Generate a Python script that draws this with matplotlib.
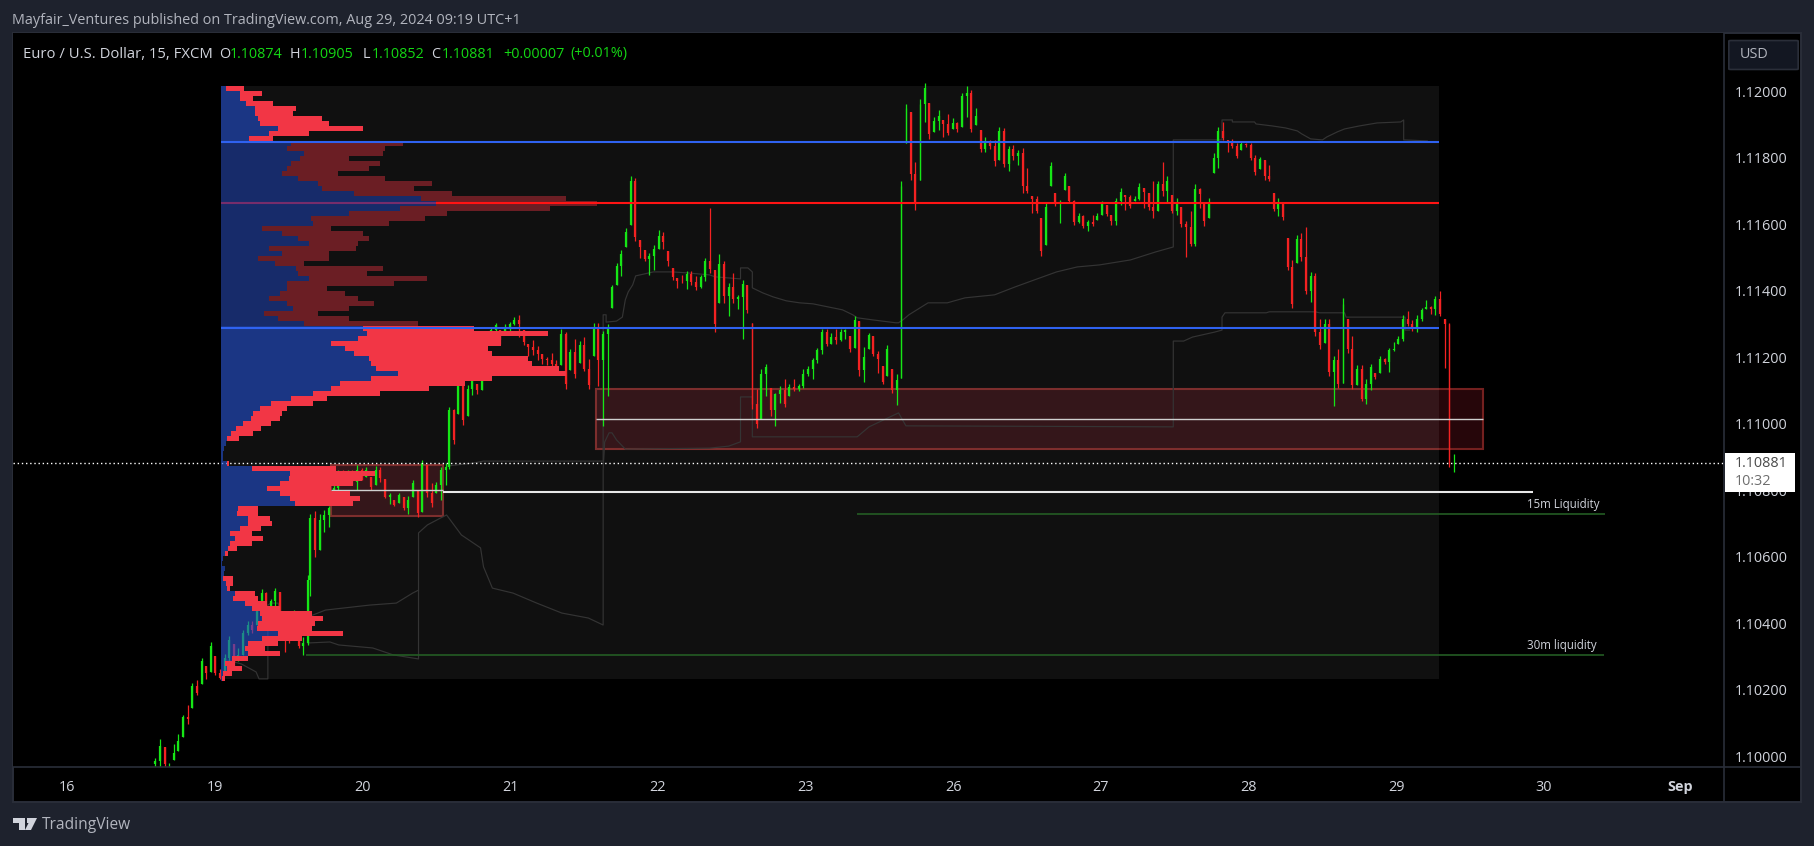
import numpy as np
import matplotlib
matplotlib.use("Agg")
import matplotlib.pyplot as plt
from matplotlib.patches import Rectangle, Polygon, FancyBboxPatch
from matplotlib.lines import Line2D

plt.rcParams['font.family'] = ['Open Sans', 'DejaVu Sans']

# ---- axis data -----------------------------------------------------------
day_labels = ['16', '19', '20', '21', '22', '23', '26', '27', '28', '29', '30', 'Sep']
day_ticks = [0, 1, 2, 3, 4, 5, 6, 7, 8, 9, 10, 10.92]
price_ticks = [1.10, 1.102, 1.104, 1.106, 1.108, 1.11, 1.112, 1.114, 1.116, 1.118, 1.12]

# ---- candles; all prices in points above 1.10000, open = previous close ----
low_a = [-32,-32,-32,-32,-12,15,57,95,145,185,218,233,254,243,232,245,265,265,285,305,365,370,395,410,440,445,440,420,312,340,405,325,305,335]
high_a = [-7,50,27,-22,35,65,124,153,220,228,296,272,344,302,263,308,362,338,325,380,405,405,445,503,492,473,506,492,360,355,440,375,358,545]
close_a = [-15,30,-25,-24,10,45,118,110,210,190,285,250,330,250,235,295,350,280,305,370,395,380,440,490,450,465,495,430,350,345,435,330,340,530]

low_b = [480,600,620,675,690,760,795,820,825,815,800,830,840,800,815,825,775,757,752,760,740,728,780,718,735,780,750,790,770,815]
high_b = [728,737,728,740,752,815,860,860,860,860,875,865,870,840,872,870,832,792,770,792,780,782,830,798,890,875,820,825,868,880]
close_b = [715,620,710,725,745,805,850,830,850,825,860,840,860,810,860,835,780,785,755,785,745,770,820,730,880,790,760,815,860,870]

low_c = [862,937,1030,997,1022,1085,1090,1100,1185,1240,1272,1240,1270,1270,1297,1260,1237,1202,1207,1192,1180,1177,1170,1152,1177,1105,1160,1137,1182,1157,1104,1202,1114,992,1082]
high_c = [1050,1045,1152,1132,1117,1150,1120,1200,1250,1290,1302,1280,1300,1305,1320,1327,1282,1240,1250,1232,1210,1200,1212,1190,1285,1274,1225,1254,1247,1260,1194,1302,1302,1277,1300]
close_c = [1040,950,1140,1010,1105,1130,1100,1180,1235,1280,1295,1250,1290,1298,1310,1300,1245,1230,1220,1210,1195,1190,1178,1160,1270,1120,1215,1150,1235,1165,1115,1290,1190,1270,1290]

low_d = [1348,1418,1445,1531,1598,1548,1498,1488,1446,1463,1525,1525,1473,1433,1408,1423,1406,1418,1403,1408,1428,1453,1275,1363,1363,1323,1363,1345,1253,1333,1043,988,1013,1083,1023,993,1063,1051,1083,1098,1098,1108,1143,1133,1183,1208,1233,1238,1238,1248,1253,1215,1228,1143,1125,1223,1203,1153,1118,1143,1093,1055,1138]
high_d = [1418,1483,1523,1588,1743,1738,1553,1523,1513,1538,1583,1575,1518,1468,1438,1448,1458,1458,1443,1448,1498,1648,1463,1510,1488,1423,1453,1388,1433,1418,1301,1103,1163,1178,1108,1093,1113,1135,1118,1133,1118,1163,1173,1198,1228,1283,1283,1273,1283,1283,1285,1263,1323,1308,1231,1273,1263,1218,1173,1235,1163,1148,1728]
close_d = [1410,1475,1510,1575,1730,1560,1530,1495,1505,1525,1565,1545,1490,1440,1430,1428,1450,1425,1410,1440,1490,1465,1300,1480,1385,1410,1375,1380,1420,1340,1060,1000,1150,1170,1040,1090,1100,1060,1110,1105,1112,1150,1165,1190,1220,1275,1240,1260,1250,1275,1280,1225,1310,1160,1200,1265,1210,1195,1125,1225,1100,1130,1715]

low_e = [1843,1733,1643,1733,1908,1855,1878,1883,1863,1868,1885,1878,1893,1923,1878,1898,1818,1818,1825,1775,1793,1771,1758,1793,1778,1693,1693,1633,1633,1503,1538,1713,1653,1603,1703,1663,1598,1603,1588,1578,1593,1613,1628,1623,1598,1598,1658,1643,1648,1668,1673,1648,1643,1618,1640,1683,1663,1633,1628]
high_e = [1961,1936,1788,1975,2025,1963,1923,1943,1913,1930,1918,1908,1993,2015,2003,1948,1883,1863,1853,1853,1891,1888,1835,1838,1823,1828,1768,1685,1683,1618,1663,1788,1693,1673,1753,1713,1673,1633,1628,1613,1628,1633,1668,1658,1628,1678,1708,1688,1688,1683,1723,1708,1693,1728,1728,1788,1743,1688,1678]
close_e = [1950,1750,1665,1960,2010,1870,1910,1925,1900,1875,1905,1885,1985,1995,1885,1925,1825,1850,1835,1790,1880,1780,1825,1805,1815,1715,1700,1675,1640,1520,1650,1775,1660,1665,1745,1670,1605,1625,1595,1605,1600,1625,1660,1630,1610,1670,1695,1680,1655,1675,1710,1695,1650,1640,1720,1700,1730,1640,1665]

low_f = [1590,1500,1533,1533,1648,1593,1618,1753,1768,1853,1818,1828,1798,1823,1833,1793,1748,1765,1733,1728,1638,1625,1613,1461,1348,1483,1488,1391,1365,1263,1223,1243,1143,1053,1108,1123,1213,1103,1115,1068,1058,1100,1133,1153,1178,1155,1218,1238,1248,1293,1278,1275,1308,1343,1328,1325,1323,1168,868,855]
high_f = [1650,1608,1640,1721,1708,1663,1678,1815,1893,1908,1853,1855,1843,1848,1843,1843,1808,1803,1793,1778,1693,1678,1663,1558,1493,1568,1573,1591,1456,1453,1313,1313,1313,1203,1223,1378,1313,1263,1175,1175,1133,1178,1153,1203,1198,1228,1245,1263,1325,1338,1311,1325,1346,1373,1353,1383,1400,1315,1301,908]
close_f = [1600,1590,1540,1705,1690,1610,1660,1800,1880,1860,1845,1835,1805,1840,1837,1800,1755,1795,1745,1735,1645,1665,1620,1470,1360,1555,1500,1400,1445,1275,1235,1300,1155,1190,1120,1360,1225,1115,1165,1075,1120,1170,1140,1195,1185,1220,1225,1255,1315,1300,1285,1315,1340,1350,1345,1375,1330,1300,880,881]

# first and last trading-day position covered by each candle block
block_days = [(0.598, 1.630), (1.647, 2.564), (2.587, 3.661),
              (3.690, 5.649), (5.681, 7.513), (7.545, 9.390)]

# ---- visible-range volume profile, top row first ---------------------------
profile_top = 2007
profile_row = 15.04
profile_buy = [5,19,19,25,34,34,37,39,57,48,28,70,66,83,79,70,66,61,77,97,101,133,200,215,179,128,90,92,41,61,77,88,48,61,37,54,75,77,88,66,66,59,48,66,72,43,57,83,142,146,137,110,124,133,148,150,155,177,150,119,110,92,70,50,39,32,30,
               22,15,10,6,5,3,2,2,6,31,69,68,59,46,59,69,74,17,16,27,27,19,9,14,9,7,4,2,1,4,3,2,5,6,14,12,24,31,39,41,37,36,57,41,27,24,27,11,4,6,2,1]
profile_total = [23,41,32,52,75,72,101,108,142,88,52,182,164,162,128,159,148,117,164,211,193,231,345,376,329,226,204,168,110,142,148,137,135,108,108,83,162,146,206,173,106,124,137,153,128,97,128,197,253,327,280,280,267,271,307,311,338,345,271,244,208,159,106,92,66,61,59,
                 50,40,32,18,5,3,2,2,8,115,154,141,132,110,129,139,132,37,37,49,51,40,31,42,31,16,7,2,1,4,3,12,12,9,34,37,46,59,91,102,94,91,122,81,57,44,59,27,14,21,11,4]

# ---- levels (points above 1.10000) -----------------------------------------
vah_level, poc_level, val_level = 1847, 1663, 1287
zone_upper = (1013, 923, 1104)
zone_lower = (800, 722, 875)
white_level = 795
liq_15m = 728
liq_30m = 304
last_price = 881

# ---- anchored VWAP traces: trading-day position and points -------------------
vwap1_day = [1.08,1.18,1.28,1.30,1.36,1.36,1.38,1.43,1.44,1.63,1.75,2.05,2.23,2.34,2.38]
vwap1_pts = [289,277,253,232,232,454,460,460,433,418,439,454,460,490,499]
vwap2_day = [1.63,1.78,1.84,2.07,2.21,2.38,2.38,2.44,2.53,2.57,2.67,2.80,2.82,2.88,3.02,3.18,3.35,3.53,3.63,3.63,3.64,3.67,3.69,3.72,3.78,4.35,4.48,4.56,4.56,4.64,4.64,5.35,5.43,5.63,5.68,7.49,7.49,7.56,7.62,7.77,7.82,7.82,7.84,8.12,8.14,8.45,8.48,8.65,8.66,9.06,9.06,9.09]
vwap2_pts = [340,343,334,325,304,292,671,695,716,725,665,626,569,505,490,460,430,415,394,860,944,972,972,951,923,926,932,945,1080,1080,960,960,990,1032,993,990,1248,1248,1260,1275,1281,1320,1333,1333,1336,1336,1333,1333,1320,1320,1281,1281]
vwap3_day = [2.57,2.75,2.82,3.63,3.63,3.65,3.65,3.72,3.76,3.78,3.80,3.83,3.85,3.97,4.10,4.20,4.35,4.39,4.56,4.56,4.61,4.64,4.64,4.71,4.78,4.87,4.96,5.05,5.15,5.25,5.32,5.35,5.45,5.61,5.63,5.66,5.70,5.83,5.96,6.08,6.28,6.42,6.55,6.70,6.84,6.99,7.20,7.37,7.49,7.49,7.82,7.82,7.89,7.89,8.04,8.05,8.16,8.25,8.33,8.36,8.42,8.50,8.53,8.60,8.65,8.75,8.87,9.03,9.05,9.05,9.21]
vwap3_pts = [872,881,887,887,1327,1327,1305,1308,1320,1372,1396,1417,1444,1456,1456,1453,1447,1441,1435,1468,1468,1456,1408,1393,1381,1369,1363,1360,1351,1342,1327,1318,1312,1303,1303,1312,1327,1363,1363,1378,1387,1411,1432,1456,1471,1477,1492,1516,1531,1853,1853,1913,1913,1907,1907,1901,1895,1889,1880,1871,1856,1853,1862,1877,1886,1895,1904,1907,1913,1853,1850]

# ---- drawing helpers -------------------------------------------------------
W, H = 1814, 846
def fx(px): return px / W
def fy(py): return 1 - py / H
def price(pts): return 1.1 + np.asarray(pts, dtype=float) * 1e-5
def day_of(px): return (px - 67) / 147.7

BG = '#1e222d'
BORDER = '#2a2e39'
TXT = '#d1d4dc'
GREY = '#b2b5be'
UP = '#16e616'
DOWN = '#f42222'

fig = plt.figure(figsize=(W / 100, H / 100), dpi=100, facecolor=BG)
fig.add_artist(Rectangle((fx(13), fy(802)), fx(1801 - 13), (802 - 33.5) / H, transform=fig.transFigure,
                         facecolor='black', edgecolor=BORDER, linewidth=1.4, zorder=-1))
ax = fig.add_axes([fx(13), fy(767), fx(1724 - 13), (767 - 33.5) / H], facecolor='black')
ax.set_xlim(day_of(13), day_of(1724))
ax.set_ylim(price(-33), price(2173))
for s in ax.spines.values():
    s.set_visible(False)

# scales
ax.yaxis.tick_right()
ax.set_yticks(price_ticks)
ax.set_yticklabels([f'{t:.5f}' for t in price_ticks], color=TXT, fontsize=10.4)
ax.tick_params(axis='y', length=0, pad=8)
ax.set_xticks(day_ticks)
ax.set_xticklabels(day_labels, color=TXT, fontsize=10.4)
ax.tick_params(axis='x', length=0, pad=9)
ax.get_xticklabels()[-1].set_fontweight('bold')

# zones, opaque on the black pane
box_l, box_r = day_of(221), day_of(1439)
for zone, l, r in ((zone_upper, day_of(596), day_of(1483)), (zone_lower, day_of(331), day_of(443))):
    ax.add_patch(Rectangle((l, price(zone[1])), r - l, price(zone[2]) - price(zone[1]),
                           facecolor='#26060a', edgecolor='#74201f', linewidth=1.5, zorder=1.5))
    ax.plot([l, r], [price(zone[0]), price(zone[0])], color='#cfcfcf', lw=1.0, zorder=4.5,
            solid_capstyle='butt')

# range background: a faint white veil above the zones
ax.add_patch(Rectangle((box_l, price(232)), box_r - box_l, price(2015) - price(232),
                       facecolor=(1, 1, 1, 0.066), edgecolor='none', zorder=2))

# vwap traces
for d, p in ((vwap1_day, vwap1_pts), (vwap2_day, vwap2_pts), (vwap3_day, vwap3_pts)):
    ax.plot(d, price(p), color='#343434', lw=0.85, zorder=2.5)

# candles
blocks = [(low_a, high_a, close_a), (low_b, high_b, close_b), (low_c, high_c, close_c),
          (low_d, high_d, close_d), (low_e, high_e, close_e), (low_f, high_f, close_f)]
prev_close = -25.0
for (first, last), (lo, hi, cl) in zip(block_days, blocks):
    xs = np.linspace(first, last, len(cl))
    lo, hi, cl = np.array(lo, float), np.array(hi, float), np.array(cl, float)
    op = np.r_[prev_close, cl[:-1]]
    prev_close = cl[-1]
    colors = [UP if c >= o else DOWN for o, c in zip(op, cl)]
    top = np.minimum(np.maximum(op, cl), hi)
    bot = np.maximum(np.minimum(op, cl), lo)
    widths = [0.9 if abs(c - o) > 200 else 1.6 for o, c in zip(op, cl)]
    ax.vlines(xs, price(lo), price(hi), colors=colors, lw=0.9, zorder=3)
    ax.vlines(xs, price(bot), price(top), colors=colors, linewidths=widths, zorder=3.2)

# levels
ax.plot([day_of(443), day_of(1533)], [price(white_level)] * 2, color='#e8e8e8', lw=1.5, zorder=4.6,
        solid_capstyle='butt')
ax.plot([day_of(857), day_of(1605)], [price(liq_15m)] * 2, color='#245c24', lw=1.2, zorder=4,
        solid_capstyle='butt')
ax.plot([day_of(306), day_of(1604)], [price(liq_30m)] * 2, color='#245c24', lw=1.2, zorder=4,
        solid_capstyle='butt')
ax.plot([day_of(13), day_of(1724)], [price(last_price)] * 2, color='white', lw=1.0,
        linestyle=(0, (1, 2)), zorder=4.7)

# volume profile
rows = profile_top - profile_row * np.arange(len(profile_buy))
buy = np.array(profile_buy, float)
total = np.array(profile_total, float)
in_va = (rows <= vah_level) & (rows >= val_level)
scale = 1 / 147.7
row_h = price(profile_row) - price(0)
ax.barh(price(rows), (total - buy) * scale, left=box_l + buy * scale, height=row_h,
        color=['#6b1e24' if v else '#f23645' for v in in_va], linewidth=0, zorder=5, antialiased=False)
ax.plot([box_l, box_r], [price(poc_level)] * 2, color='#ff1414', lw=1.5, zorder=6, solid_capstyle='butt')
ax.barh(price(rows), buy * scale, left=box_l, height=row_h,
        color=[(29 / 255, 62 / 255, 167 / 255, .6) if v else (35 / 255, 80 / 255, 210 / 255, .6) for v in in_va],
        linewidth=0, zorder=7, antialiased=False)
for lvl in (vah_level, val_level):
    ax.plot([box_l, box_r], [price(lvl)] * 2, color='#2f62f0', lw=1.5, zorder=8, solid_capstyle='butt')

# annotations
ax.text(day_of(1563), price(755), '15m Liquidity', color=TXT, fontsize=8.3, ha='center', va='center', zorder=9)
ax.text(day_of(1562), price(331), '30m liquidity', color=TXT, fontsize=8.3, ha='center', va='center', zorder=9)

# chrome
def hline(y, x0, x1):
    fig.add_artist(Line2D([fx(x0), fx(x1)], [fy(y), fy(y)], color=BORDER, lw=1.2, zorder=3))
def vline(x, y0, y1):
    fig.add_artist(Line2D([fx(x), fx(x)], [fy(y0), fy(y1)], color=BORDER, lw=1.2, zorder=3))
hline(767, 13, 1801)
vline(1724, 33.5, 802)

fig.add_artist(Rectangle((fx(1725), fy(492)), fx(70), 39 / H, transform=fig.transFigure,
                         facecolor='white', edgecolor='none', zorder=5))
fig.text(fx(1735), fy(463.5), '1.10881', color='#4a4a4a', fontsize=10.4, va='center', zorder=6)
fig.text(fx(1735), fy(481.5), '10:32', color='#6e6e6e', fontsize=10.4, va='center', zorder=6)

fig.add_artist(FancyBboxPatch((fx(1731), fy(69)), fx(65), 28 / H, boxstyle='round,pad=0.0012',
                              transform=fig.transFigure, facecolor='#131722', edgecolor=BORDER,
                              linewidth=1.2, zorder=5, mutation_aspect=H / W))
fig.text(fx(1740), fy(55), 'USD', color=GREY, fontsize=10.4, va='center', zorder=6)

# header and legend
fig.text(fx(12), fy(20), 'Mayfair_Ventures published on TradingView.com, Aug 29, 2024 09:19 UTC+1',
         color=GREY, fontsize=10.35, va='center')
LEG = '#14d814'
fig.text(fx(23), fy(54), 'Euro / U.S. Dollar, 15, FXCM', color=TXT, fontsize=10.7, va='center')
for px, s, c in ((219, 'O', TXT), (230, '1.10874', LEG), (290, 'H', TXT), (301, '1.10905', LEG),
                 (363, 'L', TXT), (372, '1.10852', LEG), (431, 'C', TXT), (442, '1.10881', LEG),
                 (503, '+0.00007', LEG), (570, '(+0.01%)', LEG)):
    fig.text(fx(px), fy(54), s, color=c, fontsize=10.4, va='center')

# footer logo and wordmark
logo = '#d1d4dc'
fig.add_artist(Polygon([(fx(13), fy(818)), (fx(25), fy(818)), (fx(25), fy(830)), (fx(19), fy(830)),
                        (fx(19), fy(823)), (fx(13), fy(823))], closed=True, transform=fig.transFigure,
                       facecolor=logo, edgecolor='none'))
fig.add_artist(Polygon([(fx(31), fy(818)), (fx(37), fy(818)), (fx(31), fy(830)), (fx(25), fy(830))],
                       closed=True, transform=fig.transFigure, facecolor=logo, edgecolor='none'))
fig.add_artist(Rectangle((fx(26.5), fy(823)), fx(4), 5 / H, transform=fig.transFigure,
                         facecolor=logo, edgecolor='none'))
fig.text(fx(42), fy(825), 'TradingView', color=GREY, fontsize=11.2, va='center')

fig.savefig('out.png', dpi=100, facecolor=BG)
